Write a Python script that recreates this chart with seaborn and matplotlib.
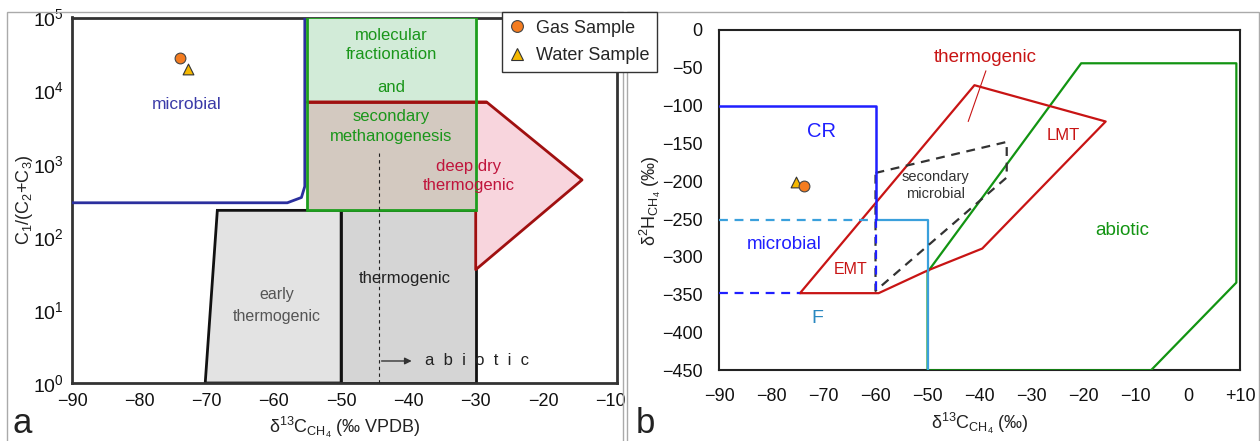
import numpy as np
import matplotlib
matplotlib.use("Agg")
import matplotlib.pyplot as plt
from matplotlib.lines import Line2D
from matplotlib.patches import Rectangle
import seaborn as sns

# ---------------- data ----------------
# panel a : delta13C vs C1/(C2+C3)
gas_a_x, gas_a_y = [-74.0], [27700]
water_a_x, water_a_y = [-72.7], [20000]

microbial_a_x = [-90, -58, -55.9, -55.4, -55.4]
microbial_a_y = [292, 292, 345, 490, 1e5]

molfrac_x = [-55, -30, -30, -55]
molfrac_y = [230, 230, 1e5, 1e5]

secmeth_x = [-55, -30, -30, -55]
secmeth_y = [230, 230, 7000, 7000]

deepdry_x = [-55, -28.4, -14.2, -30, -30, -55]
deepdry_y = [7000, 7000, 600, 35.5, 230, 230]

early_x = [-70.2, -68.4, -50, -50]
early_y = [1, 230, 230, 1]

thermo_a_x = [-50, -50, -30, -30]
thermo_a_y = [1, 230, 230, 1]

abiotic_dash_x = [-44.4, -44.4]
abiotic_dash_y = [1, 1530]

a_xticks = [-90, -80, -70, -60, -50, -40, -30, -20, -10]
a_yticks = [1, 10, 100, 1000, 10000, 100000]

# panel b : delta13C vs delta2H
gas_b_x, gas_b_y = [-73.8], [-206]
water_b_x, water_b_y = [-75.3], [-200.6]

cr_solid_x = [-90, -60, -60]
cr_solid_y = [-100, -100, -250]
cr_dash_x = [-60, -60]
cr_dash_y = [-250, -350]
cr_dash2_x = [-90, -74.5]
cr_dash2_y = [-348, -348]

f_dash_x = [-90, -60]
f_dash_y = [-251, -251]
f_solid_x = [-60, -50, -50]
f_solid_y = [-251, -251, -450]

thermo_b_x = [-74.5, -41.0, -15.8, -39.5, -50.0, -59.4, -74.5]
thermo_b_y = [-348, -73, -121, -289, -318, -348, -348]

secmic_x = [-60, -34.8, -34.8, -60, -60]
secmic_y = [-189, -148, -195, -345, -189]

abiotic_b_x = [-50, -50, -20.5, 9.3, 9.3, -7.1, -50]
abiotic_b_y = [-450, -320, -44, -44, -334, -450, -450]

pointer_x = [-38.8, -42.2]
pointer_y = [-54, -121]

b_xticks = [-90, -80, -70, -60, -50, -40, -30, -20, -10, 0, 10]
b_xticklabels = ["\u221290", "\u221280", "\u221270", "\u221260", "\u221250", "\u221240",
                 "\u221230", "\u221220", "\u221210", "0", "+10"]
b_yticks = [0, -50, -100, -150, -200, -250, -300, -350, -400, -450]

# ---------------- style ----------------
sns.set_theme(style="white")
plt.rcParams["font.family"] = ["Liberation Sans", "DejaVu Sans"]
plt.rcParams["mathtext.fontset"] = "custom"
plt.rcParams["mathtext.rm"] = "Liberation Sans"
plt.rcParams["mathtext.it"] = "Liberation Sans:italic"
plt.rcParams["mathtext.bf"] = "Liberation Sans:bold"

GAS = "#f47c20"
WATER = "#f5b800"

W, H = 1260, 441
fig = plt.figure(figsize=(W / 100, H / 100), dpi=100)

def fx(px):
    return px / W

def fy(py):
    return 1 - py / H

axa = fig.add_axes([fx(72), fy(383), fx(617) - fx(72), fy(17.5) - fy(383)])
axb = fig.add_axes([fx(719.3), fy(370.3), fx(1240) - fx(719.3), fy(30) - fy(370.3)])

# ---------------- panel a ----------------
axa.set_yscale("log")
axa.set_xlim(-90, -9)
axa.set_ylim(1, 1e5)

axa.fill(early_x, early_y, facecolor="#e3e3e3", edgecolor="#111111", lw=2, zorder=1)
axa.fill(thermo_a_x, thermo_a_y, facecolor="#d5d5d5", edgecolor="#111111", lw=2, zorder=1)
axa.fill(deepdry_x, deepdry_y, facecolor="#f8d5dd", edgecolor="none", zorder=2)
axa.plot(deepdry_x[:5], deepdry_y[:5], color="#a01010", lw=2, zorder=4)
axa.fill(molfrac_x, molfrac_y, facecolor="#d2ebd8", edgecolor="none", zorder=3)
axa.fill(secmeth_x, secmeth_y, facecolor="#d3c9c0", edgecolor="none", zorder=3)
axa.plot([secmeth_x[0], -28.4], [secmeth_y[2], secmeth_y[2]], color="#a01010", lw=2, zorder=4)
axa.fill(molfrac_x, molfrac_y, facecolor="none", edgecolor="#1e9e1e", lw=2, zorder=5)
axa.plot(microbial_a_x, microbial_a_y, color="#2b2f9e", lw=2, zorder=4)
axa.plot(abiotic_dash_x, abiotic_dash_y, color="#222222", lw=0.8, ls=(0, (3, 3)), zorder=6)
axa.annotate("", xy=(-39.1, 2.0), xytext=(-44.4, 2.0),
             arrowprops=dict(arrowstyle="-|>", color="#333333", lw=1, mutation_scale=10), zorder=6)
axa.text(-37.6, 2.0, "a  b  i  o  t  i  c", fontsize=12, color="#222222", va="center", ha="left", zorder=6)

sns.scatterplot(x=gas_a_x, y=gas_a_y, ax=axa, marker="o", color=GAS, s=60,
                edgecolor="#444444", linewidth=0.8, zorder=10)
sns.scatterplot(x=water_a_x, y=water_a_y, ax=axa, marker="^", color=WATER, s=60,
                edgecolor="#333333", linewidth=0.8, zorder=10)

axa.text(-73, 6500, "microbial", color="#3a3aa8", fontsize=12.5, ha="center", va="center")
axa.text(-42.5, 42000, "molecular\nfractionation", color="#1a961a", fontsize=12,
         ha="center", va="center", linespacing=1.4)
axa.text(-42.5, 11000, "and", color="#1a961a", fontsize=12, ha="center", va="center")
axa.text(-42.5, 3200, "secondary\nmethanogenesis", color="#1a961a", fontsize=12,
         ha="center", va="center", linespacing=1.4, zorder=7)
axa.text(-31, 680, "deep dry\nthermogenic", color="#c0143c", fontsize=12,
         ha="center", va="center", linespacing=1.3, zorder=7)
axa.text(-59.5, 11.5, "early\nthermogenic", color="#555555", fontsize=11.5,
         ha="center", va="center", linespacing=1.6, zorder=7)
axa.text(-40.5, 27, "thermogenic", color="#222222", fontsize=12, ha="center", va="center", zorder=7)

axa.set_xticks(a_xticks)
axa.set_xticklabels(["\u2212%d" % abs(v) for v in a_xticks])
axa.set_yticks(a_yticks)
axa.yaxis.set_minor_locator(matplotlib.ticker.NullLocator())
axa.tick_params(axis="x", direction="in", length=5, width=1, color="#888888",
                labelsize=13, pad=7, labelcolor="#111111")
axa.tick_params(axis="y", direction="inout", length=12, width=1, color="#888888",
                labelsize=14, pad=0, labelcolor="#111111")
for s in axa.spines.values():
    s.set_color("#333333")
    s.set_linewidth(2)
axa.set_xlabel("\u03b4$^{13}$C$_{\\mathrm{CH_4}}$ (\u2030 VPDB)", fontsize=13, labelpad=4, color="#222222")
axa.set_ylabel("C$_{1}$/(C$_{2}$+C$_{3}$)", fontsize=13, labelpad=-2, color="#222222")

# ---------------- panel b ----------------
axb.set_xlim(-90, 10)
axb.set_ylim(-450, 0)

axb.plot(abiotic_b_x, abiotic_b_y, color="#129412", lw=1.6, zorder=3)
axb.plot(thermo_b_x, thermo_b_y, color="#c81414", lw=1.6, zorder=4)
axb.plot(secmic_x, secmic_y, color="#333333", lw=1.6, ls=(0, (4, 3)), zorder=5)
axb.plot(f_dash_x, f_dash_y, color="#3aa0dc", lw=1.6, ls=(0, (4, 3)), zorder=4)
axb.plot(f_solid_x, f_solid_y, color="#3aa0dc", lw=1.6, zorder=4)
axb.plot(cr_solid_x, cr_solid_y, color="#1f1fff", lw=1.8, zorder=6)
axb.plot(cr_dash_x, cr_dash_y, color="#1f1fff", lw=1.6, ls=(0, (4, 3)), zorder=6)
axb.plot(cr_dash2_x, cr_dash2_y, color="#1f1fff", lw=1.6, ls=(0, (4, 3)), zorder=6)
axb.plot(pointer_x, pointer_y, color="#c81414", lw=0.8, zorder=4)

sns.scatterplot(x=water_b_x, y=water_b_y, ax=axb, marker="^", color=WATER, s=60,
                edgecolor="#333333", linewidth=0.8, zorder=10)
sns.scatterplot(x=gas_b_x, y=gas_b_y, ax=axb, marker="o", color=GAS, s=60,
                edgecolor="#444444", linewidth=0.8, zorder=10)

axb.text(-39, -36, "thermogenic", color="#c81414", fontsize=13.5, ha="center", va="center")
axb.text(-24, -139, "LMT", color="#c81414", fontsize=12, ha="center", va="center")
axb.text(-64.7, -317, "EMT", color="#c81414", fontsize=11.5, ha="center", va="center")
axb.text(-70.3, -134.5, "CR", color="#1f1fff", fontsize=14.5, ha="center", va="center")
axb.text(-77.5, -283, "microbial", color="#1f1fff", fontsize=13.5, ha="center", va="center")
axb.text(-71.1, -381, "F", color="#2a88c0", fontsize=14, ha="center", va="center")
axb.text(-12.7, -265, "abiotic", color="#129412", fontsize=13.5, ha="center", va="center")
axb.text(-48.5, -206, "secondary\nmicrobial", color="#333333", fontsize=10.5,
         ha="center", va="center", linespacing=1.25)

axb.set_xticks(b_xticks)
axb.set_xticklabels(b_xticklabels)
axb.set_yticks(b_yticks)
axb.set_yticklabels(["0"] + ["\u2212%d" % abs(v) for v in b_yticks[1:]])
axb.tick_params(axis="x", direction="out", length=7, width=1, color="#666666",
                labelsize=13, pad=6, labelcolor="#111111")
axb.tick_params(axis="y", direction="out", length=9, width=1, color="#666666",
                labelsize=13, pad=3, labelcolor="#111111")
for s in axb.spines.values():
    s.set_color("#222222")
    s.set_linewidth(1.5)
axb.set_xlabel("\u03b4$^{13}$C$_{\\mathrm{CH_4}}$ (\u2030)", fontsize=13, labelpad=4, color="#222222")
axb.set_ylabel("\u03b4$^{2}$H$_{\\mathrm{CH_4}}$ (\u2030)", fontsize=13, labelpad=-1, color="#222222")

# ---------------- frames, legend, panel labels ----------------
fig.add_artist(Rectangle((fx(7), fy(460)), fx(623) - fx(7), fy(12.3) - fy(460),
                         transform=fig.transFigure, fill=False, ec="#aaaaaa", lw=1))
fig.add_artist(Rectangle((fx(627), fy(460)), fx(1259) - fx(627), fy(12.3) - fy(460),
                         transform=fig.transFigure, fill=False, ec="#aaaaaa", lw=1))

handles = [Line2D([], [], ls="none", marker="o", markersize=8.5, markerfacecolor=GAS,
                  markeredgecolor="#444444", markeredgewidth=0.8),
           Line2D([], [], ls="none", marker="^", markersize=8.5, markerfacecolor=WATER,
                  markeredgecolor="#333333", markeredgewidth=0.8)]
leg = fig.legend(handles, ["Gas Sample", "Water Sample"], loc="upper left",
                 bbox_to_anchor=(fx(501.7), fy(12.3)), frameon=True, fancybox=False,
                 fontsize=13, handlelength=0.9, handletextpad=0.6, borderpad=0.4,
                 labelspacing=0.6, borderaxespad=0)
leg.get_frame().set_edgecolor("#333333")
leg.get_frame().set_linewidth(1)
leg.get_frame().set_facecolor("white")
leg.get_frame().set_alpha(1)

fig.text(fx(12), fy(440), "a", fontsize=25, ha="left", va="bottom", color="#222222")
fig.text(fx(636), fy(440), "b", fontsize=25, ha="left", va="bottom", color="#222222")

fig.savefig("out.png", dpi=100)
